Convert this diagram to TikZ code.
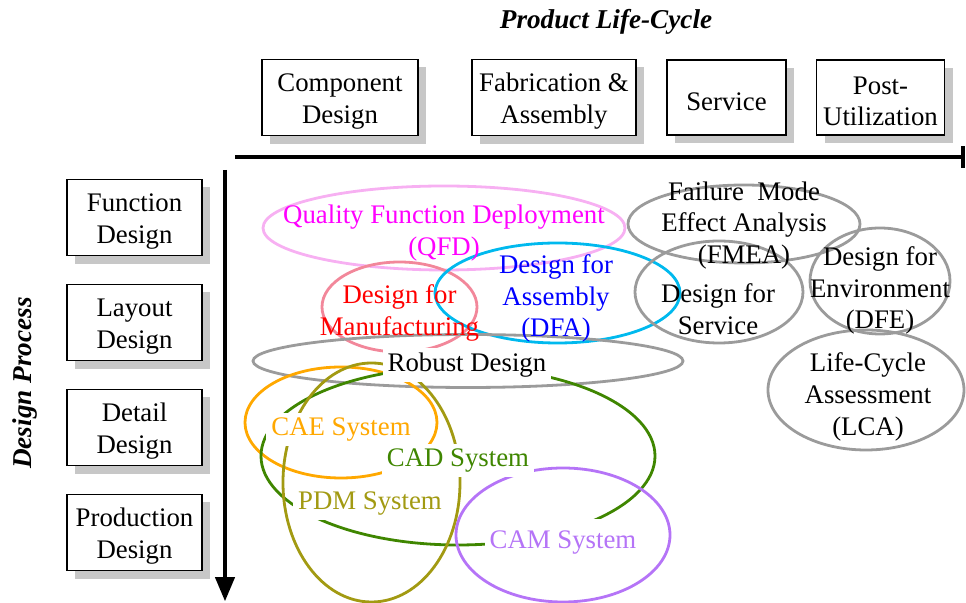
\documentclass[tikz,border=0pt]{standalone}
\usepackage{fontspec}
\setmainfont{Liberation Serif}
\usetikzlibrary{arrows,shadows}

\definecolor{qfdpink}{HTML}{F7B0F2}
\definecolor{qfdtext}{HTML}{FF00FF}
\definecolor{dfmpink}{HTML}{F2879A}
\definecolor{dfacyan}{HTML}{00B9EE}
\definecolor{ovalgray}{HTML}{9B9B9B}
\definecolor{caeorange}{HTML}{FFA800}
\definecolor{cadgreen}{HTML}{3F8600}
\definecolor{pdmolive}{HTML}{A29A12}
\definecolor{campurple}{HTML}{B574F7}

% pushes the first line of a box down a little
\newcommand\stagestrut{\rule{0pt}{12.8pt}}

\begin{document}
\begin{tikzpicture}[x=0.5pt,y=-0.5pt,>=triangle 45,
	font=\fontsize{13.4}{15.8}\selectfont,
	stage/.style={draw,line width=0.75pt,fill=white,align=center,minimum height=37.5pt,
		drop shadow={shadow xshift=4pt,shadow yshift=-4pt,fill=black!22,opacity=1}},
	oval/.style={line width=1.4pt},
	tool/.style={fill=white,inner sep=2.5pt},
	axis/.style={line width=1.8pt},
	heading/.style={font=\fontsize{13.6}{16}\selectfont\bfseries\itshape}]

	\useasboundingbox (0,0) rectangle (966,603);

	% life-cycle stages along the top
	\node[heading] (plc) at (606,21.5) {Product Life-Cycle};
	\node[stage,minimum width=78pt] (comp) at (340,97.5) {\stagestrut Component\\Design};
	\node[stage,minimum width=82pt] (fab) at (554,97.5) {\stagestrut Fabrication \&\\Assembly};
	\node[stage,minimum width=59.5pt] (serv) at (726.5,97.5) {\stagestrut Service};
	\node[stage,minimum width=64pt] (post) at (880.5,97.5) {\stagestrut Post-\\Utilization};

	\coordinate (h0) at (235,157); \coordinate (h1) at (965,157);
	\draw[axis,-|] (h0) -- (h1);

	% design stages down the side
	\node[heading,rotate=90] (dp) at (25,383) {Design Process};
	\node[stage,minimum width=67.5pt,minimum height=37pt] (func) at (134.5,217.5) {\stagestrut Function\\Design};
	\node[stage,minimum width=67.5pt,minimum height=37pt] (lay) at (134.5,322.5) {\stagestrut Layout\\Design};
	\node[stage,minimum width=67.5pt,minimum height=37pt] (det) at (134.5,427.5) {\stagestrut Detail\\Design};
	\node[stage,minimum width=67.5pt,minimum height=37pt] (prod) at (134.5,532.5) {\stagestrut Production\\Design};

	\coordinate (v0) at (225,170); \coordinate (v1) at (225,601);
	\draw[axis,->] (v0) -- (v1);

	% methods
	\draw[oval,qfdpink] (444,228) ellipse [x radius=181,y radius=42];
	\draw[oval,dfmpink] (399.5,307) ellipse [x radius=77.5,y radius=45];
	\draw[oval,dfacyan] (557.5,293) ellipse [x radius=122.5,y radius=50];
	\draw[oval,ovalgray] (468,361) ellipse [x radius=215,y radius=26.5];
	\draw[oval,ovalgray] (744,224) ellipse [x radius=116,y radius=39];
	\draw[oval,ovalgray] (719,292) ellipse [x radius=84,y radius=51];
	\draw[oval,ovalgray] (880,281) ellipse [x radius=70,y radius=53];
	\draw[oval,ovalgray] (866,390) ellipse [x radius=98,y radius=60];

	% computer systems
	\draw[oval,caeorange] (341,422.5) ellipse [x radius=96,y radius=55.5];
	\draw[oval,cadgreen] (458,456) ellipse [x radius=197,y radius=89];
	\draw[oval,pdmolive] (371.5,482.5) ellipse [x radius=88.5,y radius=119.5];
	\draw[oval,campurple] (563,535) ellipse [x radius=107,y radius=67];

	\node[align=center,text=qfdtext] (qfd) at (444,233) {Quality Function Deployment\\(QFD)};
	\node[align=center,text=red] (dfm) at (399.5,313) {Design for\\Manufacturing};
	\node[align=center,text=blue] (dfa) at (556,298.5) {Design for\\Assembly\\(DFA)};
	\node[align=center] (fmea) at (744,225.5) {Failure~ Mode\\Effect Analysis\\(FMEA)};
	\node[align=center] (dfs) at (718,309) {Design for\\Service};
	\node[align=center] (dfe) at (880,290.5) {Design for\\Environment\\(DFE)};
	\node[align=center] (lca) at (868,397) {Life-Cycle\\Assessment\\(LCA)};

	\node[tool] (rob) at (467,365) {Robust Design};
	\node[tool,text=caeorange] (cae) at (341,429.5) {CAE System};
	\node[tool,text=cadgreen] (cad) at (458,460.5) {CAD System};
	\node[tool,text=pdmolive] (pdm) at (370,503.5) {PDM System};
	\node[tool,text=campurple,inner ysep=6pt] (cam) at (563,542.5) {CAM System};
\end{tikzpicture}
\end{document}
